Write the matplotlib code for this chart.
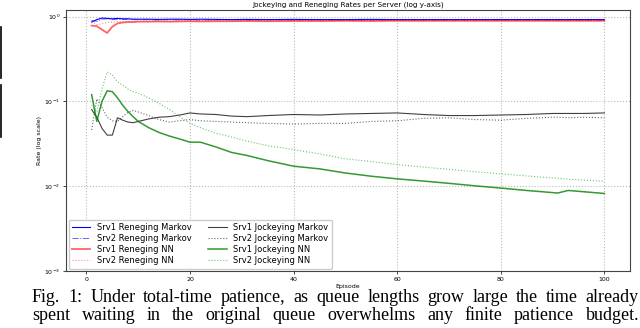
import numpy as np
import matplotlib
matplotlib.use("Agg")
from matplotlib import pyplot as plt
from matplotlib.lines import Line2D

episodes = [1, 2, 3, 4, 5, 6, 7, 8, 9, 10, 12, 14, 16, 18, 20, 22, 25, 28, 31, 35,
            40, 45, 50, 55, 60, 65, 70, 75, 80, 85, 90, 91, 93, 96, 100]

srv1_ren_markov = [0.86, 0.92, 0.96, 0.95, 0.94, 0.95, 0.94, 0.94, 0.93, 0.93, 0.93, 0.925, 0.93, 0.93, 0.925,
                   0.93, 0.925, 0.92, 0.925, 0.92, 0.925, 0.92, 0.92, 0.925, 0.92, 0.92, 0.92, 0.92, 0.92, 0.92,
                   0.92, 0.92, 0.92, 0.92, 0.92]
srv2_ren_markov = [0.90, 0.88, 0.93, 0.94, 0.92, 0.93, 0.92, 0.93, 0.92, 0.92, 0.92, 0.91, 0.92, 0.915, 0.92,
                   0.91, 0.915, 0.92, 0.91, 0.915, 0.91, 0.915, 0.91, 0.91, 0.915, 0.91, 0.91, 0.915, 0.91, 0.91,
                   0.91, 0.91, 0.91, 0.91, 0.91]
srv1_ren_nn = [0.78, 0.77, 0.70, 0.64, 0.76, 0.83, 0.85, 0.86, 0.86, 0.87, 0.87, 0.875, 0.87, 0.875, 0.88,
               0.875, 0.88, 0.88, 0.885, 0.88, 0.885, 0.885, 0.89, 0.885, 0.89, 0.89, 0.89, 0.89, 0.89, 0.89,
               0.89, 0.89, 0.89, 0.89, 0.89]
srv2_ren_nn = [0.88, 0.80, 0.82, 0.85, 0.86, 0.87, 0.87, 0.88, 0.88, 0.88, 0.885, 0.88, 0.885, 0.89, 0.885,
               0.89, 0.89, 0.89, 0.895, 0.89, 0.895, 0.89, 0.895, 0.895, 0.9, 0.895, 0.9, 0.9, 0.9, 0.9,
               0.9, 0.9, 0.9, 0.9, 0.9]
srv1_jock_markov = [0.080, 0.065, 0.048, 0.040, 0.040, 0.064, 0.060, 0.057, 0.056, 0.058, 0.062, 0.065, 0.066,
                    0.069, 0.073, 0.071, 0.070, 0.067, 0.066, 0.068, 0.070, 0.069, 0.071, 0.072, 0.073, 0.070,
                    0.068, 0.068, 0.069, 0.070, 0.072, 0.072, 0.072, 0.072, 0.073]
srv2_jock_markov = [0.046, 0.107, 0.085, 0.065, 0.059, 0.058, 0.066, 0.074, 0.078, 0.075, 0.068, 0.061, 0.057,
                    0.059, 0.061, 0.059, 0.058, 0.057, 0.056, 0.055, 0.054, 0.055, 0.055, 0.058, 0.059, 0.063,
                    0.064, 0.061, 0.060, 0.063, 0.065, 0.065, 0.064, 0.065, 0.064]
srv1_jock_nn = [0.12, 0.058, 0.10, 0.133, 0.13, 0.11, 0.09, 0.076, 0.066, 0.058, 0.049, 0.043, 0.039, 0.036,
                0.033, 0.033, 0.029, 0.025, 0.023, 0.020, 0.0172, 0.0160, 0.0143, 0.0131, 0.0122, 0.0115,
                0.0108, 0.0101, 0.0095, 0.0089, 0.0084, 0.0083, 0.0089, 0.0086, 0.0082]
srv2_jock_nn = [0.09, 0.075, 0.14, 0.222, 0.205, 0.17, 0.155, 0.14, 0.13, 0.125, 0.11, 0.095, 0.08, 0.066,
                0.055, 0.049, 0.042, 0.038, 0.034, 0.030, 0.027, 0.024, 0.021, 0.0195, 0.018, 0.0168, 0.0158,
                0.0148, 0.014, 0.0132, 0.0125, 0.0124, 0.0121, 0.0118, 0.0114]

caption1 = "Fig. 1: Under total-time patience, as queue lengths grow large the time already"
caption2 = "spent waiting in the original queue overwhelms any finite patience budget."

W, H = 640, 328
fig = plt.figure(figsize=(W / 100, H / 100), dpi=100)
ax = fig.add_axes([66 / W, 1 - 271 / H, (630 - 66) / W, (271 - 9.5) / H])

ax.plot(episodes, srv1_ren_markov, color="blue", lw=0.8, label="Srv1 Reneging Markov")
ax.plot(episodes, srv2_ren_markov, color="blue", lw=0.7, ls="-.", alpha=0.6, label="Srv2 Reneging Markov")
ax.plot(episodes, srv1_ren_nn, color="red", lw=1.3, alpha=0.6, label="Srv1 Reneging NN")
ax.plot(episodes, srv2_ren_nn, color="red", lw=0.8, ls=":", alpha=0.45, label="Srv2 Reneging NN")
ax.plot(episodes, srv1_jock_markov, color="black", lw=0.8, alpha=0.75, label="Srv1 Jockeying Markov")
ax.plot(episodes, srv2_jock_markov, color="black", lw=0.8, ls=":", alpha=0.6, label="Srv2 Jockeying Markov")
ax.plot(episodes, srv1_jock_nn, color="green", lw=1.1, alpha=0.8, label="Srv1 Jockeying NN")
ax.plot(episodes, srv2_jock_nn, color="#3cb043", lw=0.8, ls=":", alpha=0.75, label="Srv2 Jockeying NN")

ax.set_yscale("log")
ax.set_ylim(1e-3, 1.21)
ax.set_xticks([0, 20, 40, 60, 80, 100])
ax.yaxis.set_minor_locator(matplotlib.ticker.NullLocator())
ax.tick_params(labelsize=4.5, length=2, width=0.5, pad=2)
ax.grid(True, which="major", ls=":", lw=0.8, color="#bbbbbb")
for s in ax.spines.values():
    s.set_linewidth(0.8)
    s.set_color("#444444")
ax.set_title("Jockeying and Reneging Rates per Server (log y-axis)", fontsize=5.2, pad=2)
ax.set_xlabel("Episode", fontsize=4.5, labelpad=1.5)
ax.set_ylabel("Rate (log scale)", fontsize=4.5, labelpad=2)
ax.legend(loc="lower left", ncol=2, fontsize=6.0, labelspacing=0.25, columnspacing=2.0,
          handlelength=2.2, borderaxespad=0.3, framealpha=1, edgecolor="#cccccc")

# bits of the neighbouring column at the left edge
fig.add_artist(Line2D([1 / W, 1 / W], [1 - 27 / H, 1 - 78 / H], color="black", lw=1.2))
fig.add_artist(Line2D([1 / W, 1 / W], [1 - 85 / H, 1 - 137 / H], color="black", lw=1.2))

# justified caption
r = fig.canvas.get_renderer()
def justify(line, y, x0, x1):
    words = line.split()
    ts = [fig.text(0, 1 - y / H, w, fontsize=13.0, family="Liberation Serif", va="baseline") for w in words]
    ws = [t.get_window_extent(r).width for t in ts]
    gap = (x1 - x0 - sum(ws)) / (len(ws) - 1)
    x = x0
    for t, w in zip(ts, ws):
        t.set_x(x / W)
        x += w + gap

justify(caption1, 302, 32, 639)
justify(caption2, 320, 32, 639)

fig.savefig("out.png", dpi=100)
